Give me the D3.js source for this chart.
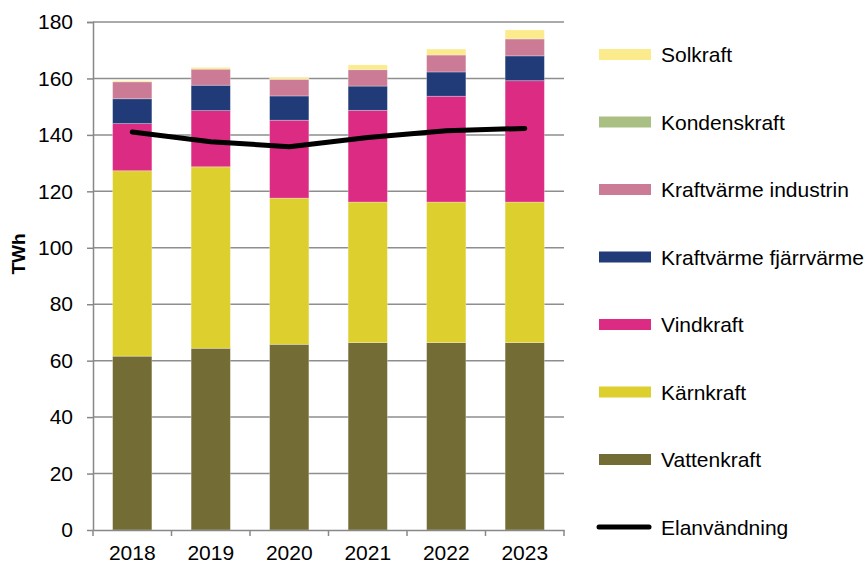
<!DOCTYPE html>
<html>
  <head>
    <meta charset="utf-8">
    <title>Elproduktion och elanvändning</title>
    <script src="https://d3js.org/d3.v7.min.js"></script>
    <style>
      body { margin: 0; background: #fff; }
      text { font-family: "Liberation Sans", Arial, sans-serif; fill: #000; }
    </style>
  </head>
  <body>
  <svg width="868" height="564"></svg>
  <script>
    // data (TWh)
    var years = ["2018", "2019", "2020", "2021", "2022", "2023"];
    var vattenkraft = [61.6, 64.4, 65.8, 66.4, 66.4, 66.4];
    var karnkraft = [65.7, 64.3, 51.8, 49.8, 49.8, 49.8];
    var vindkraft = [16.7, 19.9, 27.6, 32.5, 37.5, 43.0];
    var fjarrvarme = [8.8, 9.0, 8.6, 8.6, 8.6, 8.8];
    var industrin = [6.0, 5.7, 5.9, 5.8, 6.0, 6.0];
    var kondenskraft = [0, 0, 0, 0, 0, 0];
    var solkraft = [0.4, 0.6, 0.7, 1.7, 2.1, 3.2];
    var elanvandning = [141.0, 137.6, 135.8, 139.1, 141.5, 142.3];
    var yTicks = [0, 20, 40, 60, 80, 100, 120, 140, 160, 180];

    // series bottom to top
    var series = [
      { key: "Vattenkraft", values: vattenkraft, color: "#736c35" },
      { key: "Kärnkraft", values: karnkraft, color: "#ddcf2d" },
      { key: "Vindkraft", values: vindkraft, color: "#dc2b83" },
      { key: "Kraftvärme fjärrvärme", values: fjarrvarme, color: "#213a78" },
      { key: "Kraftvärme industrin", values: industrin, color: "#cb7b96" },
      { key: "Kondenskraft", values: kondenskraft, color: "#aabf84" },
      { key: "Solkraft", values: solkraft, color: "#fbeb8c" }
    ];

    var svg = d3.select("svg");
    var marginLeft = 93, marginTop = 22, width = 471, height = 508;

    var x = d3.scaleBand().domain(years).range([0, width]).paddingInner(0.5).paddingOuter(0.25);
    var y = d3.scaleLinear().domain([0, 180]).range([height, 0]);

    var g = svg.append("g").attr("transform", "translate(" + marginLeft + "," + marginTop + ")");

    // gridlines
    g.selectAll(".grid")
      .data(yTicks.filter(function(d) { return d > 0; }))
      .enter().append("line")
      .attr("x1", 0).attr("x2", width)
      .attr("y1", function(d) { return y(d); })
      .attr("y2", function(d) { return y(d); })
      .attr("stroke", "#8e8e8e")
      .attr("stroke-width", 1.5);

    // stacked bars
    var table = years.map(function(yr, i) {
      var row = { year: yr };
      series.forEach(function(s) { row[s.key] = s.values[i]; });
      return row;
    });
    var stacked = d3.stack().keys(series.map(function(s) { return s.key; }))(table);

    g.selectAll(".layer")
      .data(stacked)
      .enter().append("g")
      .attr("fill", function(d, i) { return series[i].color; })
      .selectAll("rect")
      .data(function(d) { return d; })
      .enter().append("rect")
      .attr("x", function(d) { return x(d.data.year); })
      .attr("width", x.bandwidth())
      .attr("y", function(d) { return y(d[1]); })
      .attr("height", function(d) { return Math.max(0, y(d[0]) - y(d[1])); })
      .attr("stroke", "#ffffff")
      .attr("stroke-opacity", 0.35)
      .attr("stroke-width", 0.8);

    // axes
    var yAxis = g.append("g")
      .call(d3.axisLeft(y).tickValues(yTicks).tickSize(6).tickPadding(14));
    var xAxis = g.append("g")
      .attr("transform", "translate(0," + height + ")")
      .call(d3.axisBottom(x).tickSize(0).tickPadding(15));

    // band boundary ticks on x axis
    xAxis.selectAll(".bound")
      .data(d3.range(years.length + 1))
      .enter().append("line")
      .attr("x1", function(i) { return i * width / years.length; })
      .attr("x2", function(i) { return i * width / years.length; })
      .attr("y1", 0).attr("y2", 6)
      .attr("stroke", "#888")
      .attr("stroke-width", 1.5);

    [yAxis, xAxis].forEach(function(a) {
      a.select(".domain").attr("stroke", "#888").attr("stroke-width", 1.5);
      a.selectAll(".tick line").attr("stroke", "#888").attr("stroke-width", 1.5);
      a.selectAll("text").attr("font-size", "21px").attr("fill", "#000")
        .attr("font-family", "'Liberation Sans', Arial, sans-serif");
    });
    yAxis.select(".domain").attr("d", "M-6,0.5H0.5V" + height);

    // consumption line
    var line = d3.line()
      .x(function(d, i) { return x(years[i]) + x.bandwidth() / 2; })
      .y(function(d) { return y(d); });
    g.append("path")
      .datum(elanvandning)
      .attr("d", line)
      .attr("fill", "none")
      .attr("stroke", "#000")
      .attr("stroke-width", 5)
      .attr("stroke-linecap", "round")
      .attr("stroke-linejoin", "round");

    // y label
    svg.append("text")
      .attr("transform", "translate(25,254) rotate(-90)")
      .attr("text-anchor", "middle")
      .attr("font-size", "19px")
      .attr("font-weight", "bold")
      .text("TWh");

    // legend
    var legendItems = series.slice().reverse().concat([{ key: "Elanvändning", line: true }]);
    var lg = svg.append("g");
    legendItems.forEach(function(d, i) {
      var cy = 54.5 + i * 67.5;
      if (d.line) {
        lg.append("line")
          .attr("x1", 599).attr("x2", 649)
          .attr("y1", cy).attr("y2", cy)
          .attr("stroke", "#000")
          .attr("stroke-width", 5)
          .attr("stroke-linecap", "round");
      } else {
        lg.append("rect")
          .attr("x", 599).attr("y", cy - 5.5)
          .attr("width", 52).attr("height", 11)
          .attr("fill", d.color);
      }
      lg.append("text")
        .attr("x", 661).attr("y", cy + 7.5)
        .attr("font-size", "21px")
        .text(d.key);
    });
  </script>
  </body>
</html>
